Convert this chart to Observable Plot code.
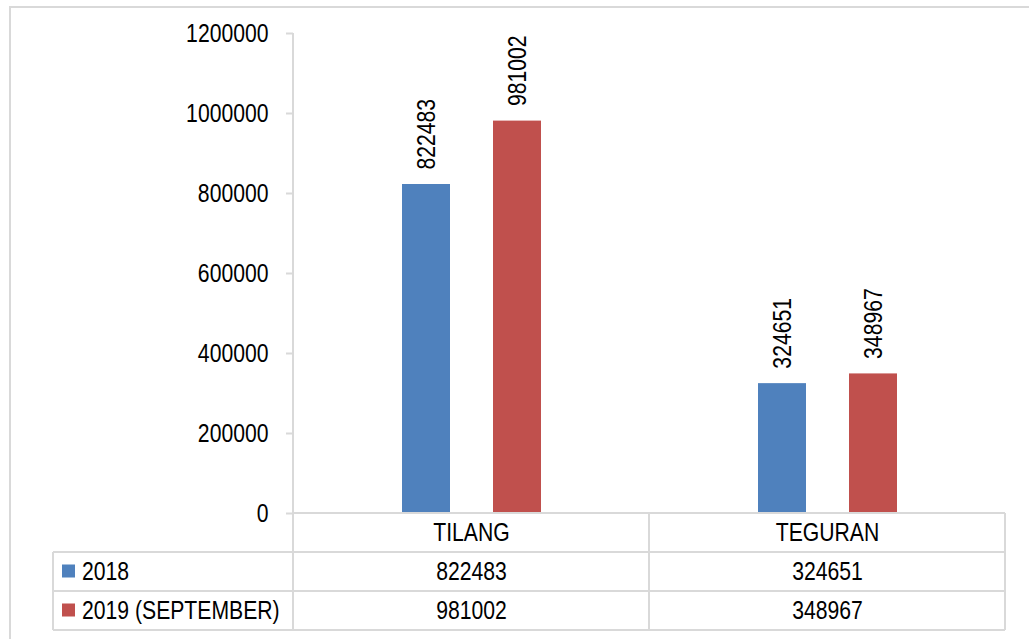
<!DOCTYPE html>
<html><head><meta charset="utf-8">
<script src="https://cdn.jsdelivr.net/npm/d3@7"></script>
<script src="https://cdn.jsdelivr.net/npm/@observablehq/plot@0.6"></script>
<style>
body{margin:0;background:#fff;}
#wrap{position:relative;width:1029px;height:639px;overflow:hidden;}
#frame{position:absolute;left:9px;top:6px;width:1100px;height:700px;border:2px solid #d9d9d9;box-sizing:border-box;}
#chart{position:absolute;left:0;top:0;}
</style></head><body>
<div id="wrap"><div id="frame"></div><div id="chart"></div></div>
<script>
const categories = ["TILANG", "TEGURAN"];
const seriesNames = ["2018", "2019 (SEPTEMBER)"];
const values2018 = [822483, 324651];
const values2019 = [981002, 348967];
const yTicks = [0, 200000, 400000, 600000, 800000, 1000000, 1200000];
const colors = ["#4F81BD", "#C0504D"];

const rows = [];
categories.forEach((c, i) => {
  rows.push({category: c, series: seriesNames[0], value: values2018[i]});
  rows.push({category: c, series: seriesNames[1], value: values2019[i]});
});

const FONT = "'Liberation Sans','Arial',sans-serif";
const FS = 25.5;
const NARROW = 0.83;
const GRID = "#d9d9d9";
const ROW_H = 39;

const chart = Plot.plot({
  width: 1029, height: 639,
  marginLeft: 293, marginRight: 24, marginTop: 33, marginBottom: 126,
  style: {fontFamily: FONT, fontSize: FS + "px", color: "#000", background: "transparent", overflow: "visible"},
  fx: {domain: categories, padding: 0, axis: null},
  x: {domain: seriesNames, paddingInner: 0.478, paddingOuter: 1.174, axis: null},
  y: {domain: [0, 1200000], axis: null},
  color: {domain: seriesNames, range: colors},
  marks: [
    Plot.barY(rows, {fx: "category", x: "series", y: "value", fill: "series"}),
    Plot.text(rows, {fx: "category", x: "series", y: "value", text: d => String(d.value),
      rotate: -90, textAnchor: "start", lineAnchor: "middle", dy: -15, fill: "#000"}),
    Plot.axisY({ticks: yTicks, tickFormat: d => String(d), tickSize: 7, tickPadding: 18,
      stroke: GRID, strokeWidth: 2, fill: "#000", label: null}),
    Plot.text(categories, {fx: d => d, text: d => d, frameAnchor: "bottom", lineAnchor: "middle",
      dy: ROW_H / 2, fill: "#000"}),
    Plot.text(rows, {filter: d => d.series === seriesNames[0], fx: "category", text: d => String(d.value),
      frameAnchor: "bottom", lineAnchor: "middle", dy: ROW_H * 1.5, fill: "#000"}),
    Plot.text(rows, {filter: d => d.series === seriesNames[1], fx: "category", text: d => String(d.value),
      frameAnchor: "bottom", lineAnchor: "middle", dy: ROW_H * 2.5, fill: "#000"})
  ]
});
document.getElementById("chart").appendChild(chart);

// data table grid and legend keys, positioned from the chart's scales
const fx = chart.scale("fx");
const y = chart.scale("y");
const svg = d3.select(chart);
const y0 = y.apply(0);
const yTop = y.apply(1200000);
const xStart = fx.apply(categories[0]);
const xEnd = fx.apply(categories[categories.length - 1]) + fx.bandwidth;
const tableLeft = 53;
const g = svg.append("g").attr("stroke", GRID).attr("stroke-width", 2);
g.append("line").attr("x1", xStart).attr("x2", xStart).attr("y1", yTop).attr("y2", y0 + 3 * ROW_H);
g.append("line").attr("x1", xStart).attr("x2", xEnd).attr("y1", y0).attr("y2", y0);
for (let k = 1; k <= 3; k++) {
  g.append("line").attr("x1", tableLeft).attr("x2", xEnd).attr("y1", y0 + k * ROW_H).attr("y2", y0 + k * ROW_H);
}
g.append("line").attr("x1", tableLeft).attr("x2", tableLeft).attr("y1", y0 + ROW_H).attr("y2", y0 + 3 * ROW_H);
categories.forEach(c => {
  const xe = fx.apply(c) + fx.bandwidth;
  g.append("line").attr("x1", xe).attr("x2", xe).attr("y1", y0).attr("y2", y0 + 3 * ROW_H);
});
const leg = svg.append("g").attr("font-family", FONT).attr("font-size", FS).attr("text-anchor", "start");
seriesNames.forEach((s, i) => {
  const cy = y0 + ROW_H * (i + 1.5);
  leg.append("rect").attr("x", 62).attr("y", cy - 7).attr("width", 13).attr("height", 13).attr("fill", colors[i]);
  leg.append("text").attr("x", 82).attr("y", cy).attr("dy", "0.35em").attr("fill", "#000").text(s);
});

// narrow the glyphs horizontally (the original uses a narrow sans face)
svg.selectAll("text").each(function() {
  const w = this.getComputedTextLength();
  if (w > 0) {
    this.setAttribute("textLength", (w * NARROW).toFixed(2));
    this.setAttribute("lengthAdjust", "spacingAndGlyphs");
  }
});
</script>
</body></html>
